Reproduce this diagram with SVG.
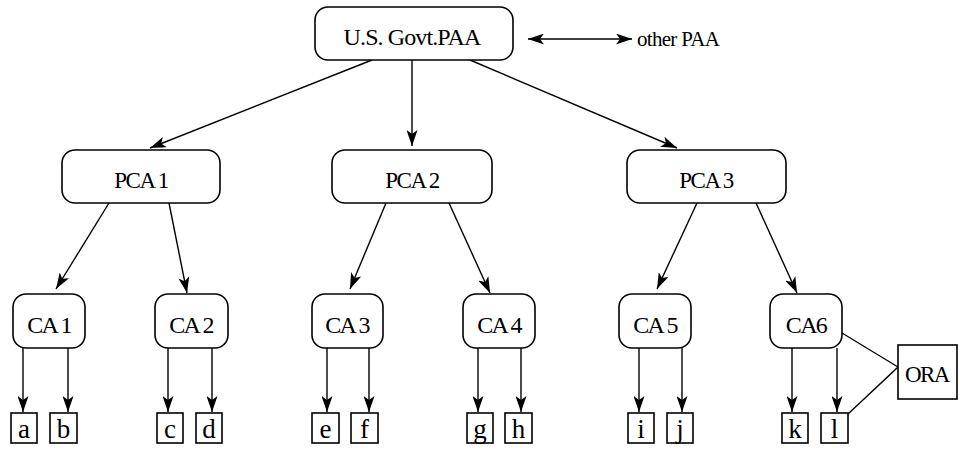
<svg xmlns="http://www.w3.org/2000/svg" width="960" height="454" viewBox="0 0 960 454">
  <defs>
    <marker id="arr" viewBox="0 0 16 11" refX="16" refY="5.5" markerWidth="16" markerHeight="11" markerUnits="userSpaceOnUse" orient="auto-start-reverse">
      <path d="M0,0 L16,5.5 L0,11 L4,5.5 z" fill="#000"/>
    </marker>
  </defs>
  <style>
    .rbox { fill: #fff; stroke: #000; stroke-width: 1.6; }
    .box { fill: #fff; stroke: #000; stroke-width: 1.6; }
    .lbl { font-family: "Liberation Serif", "Times New Roman", serif; fill: #000; text-anchor: middle; }
    .edge { stroke: #000; stroke-width: 1.4; fill: none; }
    .arrow { marker-end: url(#arr); }
  </style>
  <rect width="960" height="454" fill="#fff"/>

  <!-- connectors -->
  <g id="connectors">
    <line class="edge" x1="528" y1="39" x2="632" y2="39" marker-start="url(#arr)" marker-end="url(#arr)"/>
    <line class="edge arrow" x1="372" y1="60" x2="150" y2="148"/>
    <line class="edge arrow" x1="412" y1="60" x2="412" y2="146"/>
    <line class="edge arrow" x1="470" y1="60" x2="677" y2="148"/>

    <line class="edge arrow" x1="109" y1="203" x2="56" y2="289"/>
    <line class="edge arrow" x1="169" y1="203" x2="187" y2="293"/>
    <line class="edge arrow" x1="386" y1="203" x2="350" y2="289"/>
    <line class="edge arrow" x1="449" y1="203" x2="490" y2="293"/>
    <line class="edge arrow" x1="697" y1="203" x2="657" y2="289"/>
    <line class="edge arrow" x1="756" y1="203" x2="797" y2="293"/>

    <line class="edge arrow" x1="23" y1="348" x2="23" y2="412"/>
    <line class="edge arrow" x1="68" y1="348" x2="68" y2="412"/>
    <line class="edge arrow" x1="168" y1="348" x2="168" y2="412"/>
    <line class="edge arrow" x1="212" y1="348" x2="212" y2="412"/>
    <line class="edge arrow" x1="327" y1="348" x2="327" y2="412"/>
    <line class="edge arrow" x1="369" y1="348" x2="369" y2="412"/>
    <line class="edge arrow" x1="478" y1="348" x2="478" y2="412"/>
    <line class="edge arrow" x1="521" y1="348" x2="521" y2="412"/>
    <line class="edge arrow" x1="639" y1="348" x2="639" y2="412"/>
    <line class="edge arrow" x1="682" y1="348" x2="682" y2="412"/>
    <line class="edge arrow" x1="792" y1="348" x2="792" y2="412"/>
    <line class="edge arrow" x1="837" y1="348" x2="837" y2="412"/>

    <polyline class="edge" points="842,333 898,367 848,414"/>
  </g>

  <!-- top authority -->
  <g id="govt-paa">
    <rect class="rbox" x="315" y="7" width="198" height="53" rx="13"/>
    <text class="lbl" x="412" y="45" font-size="24" letter-spacing="-0.9">U.S. Govt.PAA</text>
  </g>
  <g id="other-paa">
    <text x="637" y="46" font-family="Liberation Serif, serif" font-size="21" letter-spacing="-0.7">other PAA</text>
  </g>

  <!-- policy CAs -->
  <g id="pca1">
    <rect class="rbox" x="62" y="150" width="158" height="53" rx="13"/>
    <text class="lbl" x="141" y="188" font-size="23" letter-spacing="-1.4">PCA 1</text>
  </g>
  <g id="pca2">
    <rect class="rbox" x="332" y="150" width="160" height="53" rx="13"/>
    <text class="lbl" x="412" y="188" font-size="23" letter-spacing="-1.4">PCA 2</text>
  </g>
  <g id="pca3">
    <rect class="rbox" x="627" y="150" width="159" height="53" rx="13"/>
    <text class="lbl" x="706" y="188" font-size="23" letter-spacing="-1.4">PCA 3</text>
  </g>

  <!-- CAs -->
  <g id="ca1">
    <rect class="rbox" x="13" y="294" width="72" height="54" rx="13"/>
    <text class="lbl" x="49" y="333" font-size="24" letter-spacing="-1.6">CA 1</text>
  </g>
  <g id="ca2">
    <rect class="rbox" x="155" y="294" width="73" height="54" rx="13"/>
    <text class="lbl" x="191" y="333" font-size="24" letter-spacing="-1.6">CA 2</text>
  </g>
  <g id="ca3">
    <rect class="rbox" x="312" y="294" width="71" height="54" rx="13"/>
    <text class="lbl" x="347" y="333" font-size="24" letter-spacing="-1.6">CA 3</text>
  </g>
  <g id="ca4">
    <rect class="rbox" x="463" y="294" width="72" height="54" rx="13"/>
    <text class="lbl" x="499" y="333" font-size="24" letter-spacing="-1.6">CA 4</text>
  </g>
  <g id="ca5">
    <rect class="rbox" x="619" y="294" width="72" height="54" rx="13"/>
    <text class="lbl" x="655" y="333" font-size="24" letter-spacing="-1.6">CA 5</text>
  </g>
  <g id="ca6">
    <rect class="rbox" x="770" y="294" width="72" height="54" rx="13"/>
    <text class="lbl" x="806" y="333" font-size="24" letter-spacing="-1.6">CA6</text>
  </g>

  <!-- organizational RA -->
  <g id="ora">
    <rect class="box" x="898" y="345" width="59" height="54"/>
    <text class="lbl" x="927" y="382" font-size="23" letter-spacing="-1.6">ORA</text>
  </g>

  <!-- end entities -->
  <g id="leaf-a"><rect class="box" x="11" y="413" width="26" height="30"/><text class="lbl" x="24" y="438" font-size="27">a</text></g>
  <g id="leaf-b"><rect class="box" x="50" y="413" width="27" height="30"/><text class="lbl" x="63.5" y="438" font-size="27">b</text></g>
  <g id="leaf-c"><rect class="box" x="157" y="413" width="26" height="30"/><text class="lbl" x="170" y="438" font-size="27">c</text></g>
  <g id="leaf-d"><rect class="box" x="196" y="413" width="26" height="30"/><text class="lbl" x="209" y="438" font-size="27">d</text></g>
  <g id="leaf-e"><rect class="box" x="312" y="413" width="27" height="30"/><text class="lbl" x="325.5" y="438" font-size="27">e</text></g>
  <g id="leaf-f"><rect class="box" x="351" y="413" width="27" height="30"/><text class="lbl" x="364.5" y="438" font-size="27">f</text></g>
  <g id="leaf-g"><rect class="box" x="467" y="413" width="26" height="30"/><text class="lbl" x="480" y="438" font-size="27">g</text></g>
  <g id="leaf-h"><rect class="box" x="505" y="413" width="27" height="30"/><text class="lbl" x="518.5" y="438" font-size="27">h</text></g>
  <g id="leaf-i"><rect class="box" x="628" y="413" width="26" height="30"/><text class="lbl" x="641" y="438" font-size="27">i</text></g>
  <g id="leaf-j"><rect class="box" x="667" y="413" width="26" height="30"/><text class="lbl" x="680" y="438" font-size="27">j</text></g>
  <g id="leaf-k"><rect class="box" x="782" y="413" width="26" height="30"/><text class="lbl" x="795" y="438" font-size="27">k</text></g>
  <g id="leaf-l"><rect class="box" x="821" y="413" width="27" height="30"/><text class="lbl" x="834.5" y="438" font-size="27">l</text></g>
</svg>
